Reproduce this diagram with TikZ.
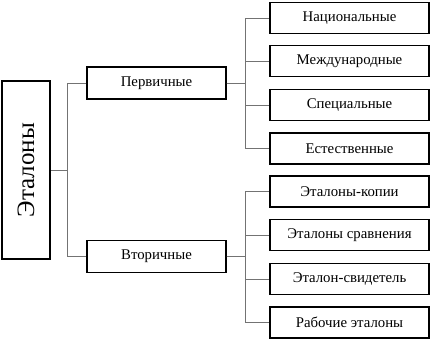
\documentclass[tikz,border=0pt]{standalone}
\usepackage{fontspec}
\setmainfont{Liberation Serif}
\begin{document}
\begin{tikzpicture}[x=1pt,y=-1pt,
  box/.style={draw=black,line width=1.4pt,fill=white,inner sep=0pt,anchor=center},
  rbox/.style={box,minimum width=159pt,minimum height=31pt,font=\fontsize{14.8}{16}\selectfont},
  mbox/.style={box,minimum width=139pt,minimum height=32pt,font=\fontsize{14.8}{16}\selectfont},
  conn/.style={draw=black!55,line width=0.8pt}]
\useasboundingbox (0,0) rectangle (430,341);
\node[box,minimum width=48pt,minimum height=178pt] (main) at (26,170) {};
\node[rotate=90,font=\fontsize{25}{28}\selectfont] (maint) at (main.center) {Эталоны};
\node[mbox] (perv) at (156.5,83) {Первичные};
\node[mbox] (vtor) at (156.5,256.5) {Вторичные};
\node[rbox] (r1) at (349.5,18) {Национальные};
\node[rbox] (r2) at (349.5,61) {Международные};
\node[rbox] (r3) at (349.5,105) {Специальные};
\node[rbox] (r4) at (349.5,148.5) {Естественные};
\node[rbox] (r5) at (349.5,191.5) {Эталоны-копии};
\node[rbox] (r6) at (349.5,235) {Эталоны сравнения};
\node[rbox] (r7) at (349.5,279) {Эталон-свидетель};
\node[rbox] (r8) at (349.5,322.5) {Рабочие эталоны};
\draw[conn] (perv.west) -- ++(-19,0) |- (main.east);
\draw[conn] (vtor.west) -- ++(-19,0) |- (main.east);
\foreach \r in {r1,r2,r3,r4} \draw[conn] (perv.east) -- ++(19,0) |- (\r.west);
\foreach \r in {r5,r6,r7,r8} \draw[conn] (vtor.east) -- ++(19,0) |- (\r.west);
\end{tikzpicture}
\end{document}
